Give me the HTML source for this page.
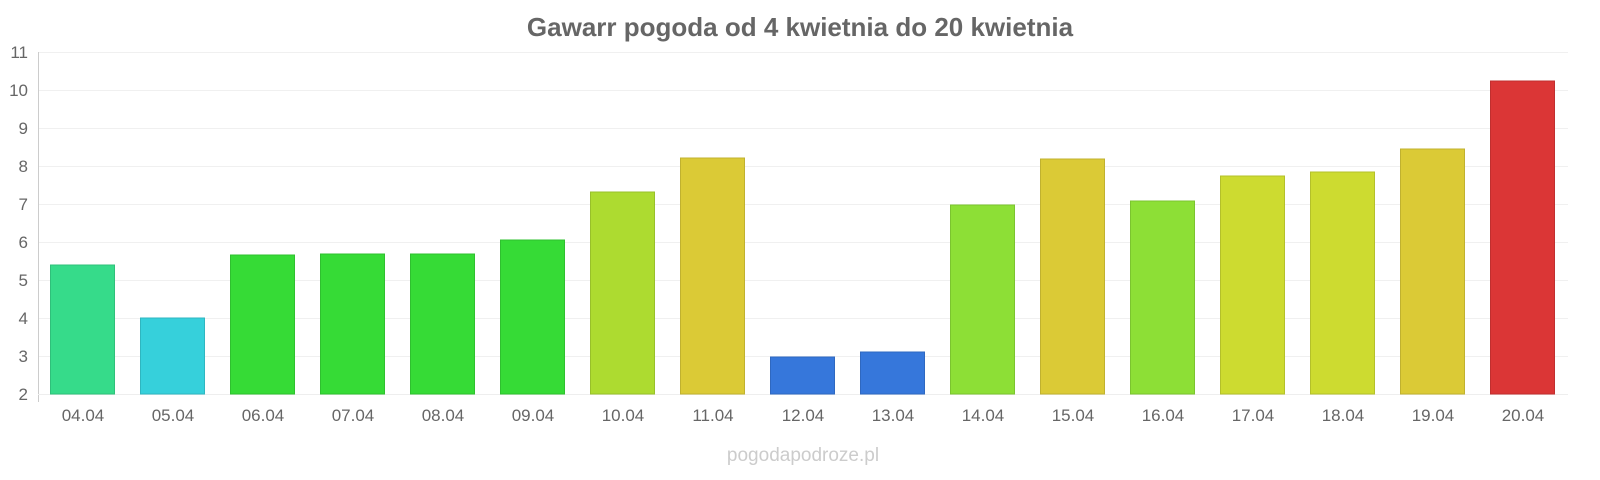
<!DOCTYPE html>
<html><head><meta charset="utf-8"><style>
body{margin:0;background:#fff;}
svg{display:block;font-family:"Liberation Sans",sans-serif;}
</style></head><body>
<svg width="1600" height="480" xmlns="http://www.w3.org/2000/svg">
<text x="800" y="36" text-anchor="middle" font-size="26" font-weight="bold" fill="#666">Gawarr pogoda od 4 kwietnia do 20 kwietnia</text>
<g stroke="#f0f0f0" stroke-width="1">
<line x1="38" x2="1568" y1="52.5" y2="52.5"/><line x1="38" x2="1568" y1="90.5" y2="90.5"/>
<line x1="38" x2="1568" y1="128.5" y2="128.5"/><line x1="38" x2="1568" y1="166.5" y2="166.5"/>
<line x1="38" x2="1568" y1="204.5" y2="204.5"/><line x1="38" x2="1568" y1="242.5" y2="242.5"/>
<line x1="38" x2="1568" y1="280.5" y2="280.5"/><line x1="38" x2="1568" y1="318.5" y2="318.5"/>
<line x1="38" x2="1568" y1="356.5" y2="356.5"/>
</g>
<line x1="38.5" x2="38.5" y1="52" y2="402" stroke="#ccc"/>
<line x1="38" x2="1568" y1="394.5" y2="394.5" stroke="#eee"/>
<g font-size="17" fill="#666" text-anchor="end">
<text x="28" y="58">11</text><text x="28" y="96">10</text><text x="28" y="134">9</text>
<text x="28" y="172">8</text><text x="28" y="210">7</text><text x="28" y="248">6</text>
<text x="28" y="286">5</text><text x="28" y="324">4</text><text x="28" y="362">3</text>
<text x="28" y="400">2</text>
</g>
<g stroke-width="1">
<rect x="50.5" y="265" width="64" height="129" fill="#36db8a" stroke="#2fc07a"/>
<rect x="140.5" y="318" width="64" height="76" fill="#36d0db" stroke="#2fb6c0"/>
<rect x="230.5" y="255" width="64" height="139" fill="#36db36" stroke="#2fc02f"/>
<rect x="320.5" y="254" width="64" height="140" fill="#36db36" stroke="#2fc02f"/>
<rect x="410.5" y="254" width="64" height="140" fill="#36db36" stroke="#2fc02f"/>
<rect x="500.5" y="240" width="64" height="154" fill="#36db36" stroke="#2fc02f"/>
<rect x="590.5" y="192" width="64" height="202" fill="#addb30" stroke="#98c02a"/>
<rect x="680.5" y="158" width="64" height="236" fill="#dbca36" stroke="#c0b12f"/>
<rect x="770.5" y="357" width="64" height="37" fill="#3677db" stroke="#2f68c0"/>
<rect x="860.5" y="352" width="64" height="42" fill="#3677db" stroke="#2f68c0"/>
<rect x="950.5" y="205" width="64" height="189" fill="#8ddf36" stroke="#7bc42f"/>
<rect x="1040.5" y="159" width="64" height="235" fill="#dbca36" stroke="#c0b12f"/>
<rect x="1130.5" y="201" width="64" height="193" fill="#8ddf36" stroke="#7bc42f"/>
<rect x="1220.5" y="176" width="64" height="218" fill="#cddb30" stroke="#b4c02a"/>
<rect x="1310.5" y="172" width="64" height="222" fill="#cddb30" stroke="#b4c02a"/>
<rect x="1400.5" y="149" width="64" height="245" fill="#dbca36" stroke="#c0b12f"/>
<rect x="1490.5" y="81" width="64" height="313" fill="#db3636" stroke="#c02f2f"/>
</g>
<g font-size="17" fill="#666" text-anchor="middle">
<text x="83" y="421">04.04</text><text x="173" y="421">05.04</text><text x="263" y="421">06.04</text>
<text x="353" y="421">07.04</text><text x="443" y="421">08.04</text><text x="533" y="421">09.04</text>
<text x="623" y="421">10.04</text><text x="713" y="421">11.04</text><text x="803" y="421">12.04</text>
<text x="893" y="421">13.04</text><text x="983" y="421">14.04</text><text x="1073" y="421">15.04</text>
<text x="1163" y="421">16.04</text><text x="1253" y="421">17.04</text><text x="1343" y="421">18.04</text>
<text x="1433" y="421">19.04</text><text x="1523" y="421">20.04</text>
</g>
<text x="803" y="461" text-anchor="middle" font-size="19" fill="#ccc">pogodapodroze.pl</text>
</svg>
</body></html>
